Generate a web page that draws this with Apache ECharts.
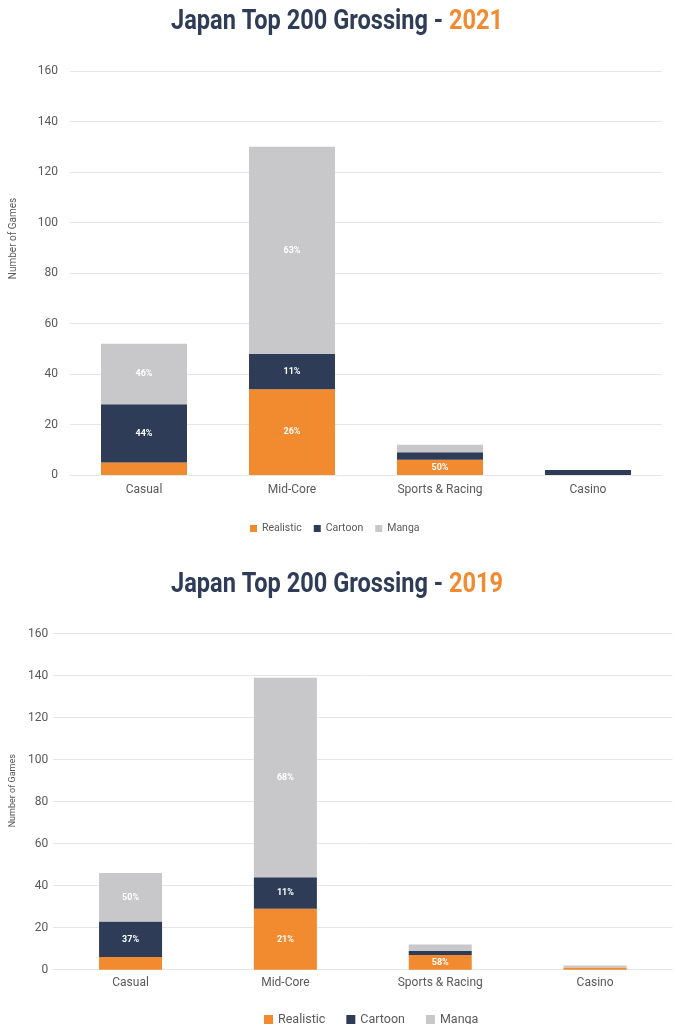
<!DOCTYPE html>
<html>
<head>
<meta charset="utf-8">
<script src="https://cdn.jsdelivr.net/npm/echarts@6/dist/echarts.min.js"></script>
<style>html,body{margin:0;padding:0;background:#fff;}#c{width:674px;height:1024px;}</style>
</head>
<body>
<div id="c"></div>
<script>
var categories = ['Casual', 'Mid-Core', 'Sports & Racing', 'Casino'];
var seriesNames = ['Realistic', 'Cartoon', 'Manga'];
var yTicks = [0, 20, 40, 60, 80, 100, 120, 140, 160];
var titleText = 'Japan Top 200 Grossing - ';
var years = ['2021', '2019'];

var realistic2021 = [5, 34, 6, 0];
var cartoon2021 = [23, 14, 3, 2];
var manga2021 = [24, 82, 3, 0];
var realisticLabels2021 = ['', '26%', '50%', ''];
var cartoonLabels2021 = ['44%', '11%', '', ''];
var mangaLabels2021 = ['46%', '63%', '', ''];

var realistic2019 = [6, 29, 7, 1];
var cartoon2019 = [17, 15, 2, 0];
var manga2019 = [23, 95, 3, 1];
var realisticLabels2019 = ['', '21%', '58%', ''];
var cartoonLabels2019 = ['37%', '11%', '', ''];
var mangaLabels2019 = ['50%', '68%', '', ''];

var colors = ['#F28A30', '#2F3C57', '#C8C8CA'];
var NAVY = '#2F3C57', ORANGE = '#F28A30';
var FONT = 'Roboto';
var TITLE_FONT_SIZE = 27;
var TITLE_WIDTH = 332;

function mkSeries(name, values, labels, idx, color, barWidth, fontSize) {
  return {
    name: name, type: 'bar', stack: 's' + idx, xAxisIndex: idx, yAxisIndex: idx,
    barWidth: barWidth, itemStyle: { color: color },
    data: values,
    label: {
      show: true, position: 'inside', color: '#fff', fontWeight: 'bold',
      fontFamily: FONT, fontSize: fontSize,
      formatter: function (p) { return labels[p.dataIndex]; }
    },
    emphasis: { disabled: true }, animation: false
  };
}

var chart = echarts.init(document.getElementById('c'), null, { renderer: 'canvas' });
var yMax = yTicks[yTicks.length - 1];
var yInt = yTicks[1] - yTicks[0];

function mkY(idx, margin, nameGap, nameSize, pad) {
  return {
    type: 'value', gridIndex: idx, min: yTicks[0], max: yMax, interval: yInt,
    name: 'Number of Games', nameLocation: 'middle', nameGap: nameGap, nameRotate: 90,
    nameTextStyle: { color: '#595959', fontSize: nameSize, fontFamily: FONT, padding: pad },
    axisLine: { show: false }, axisTick: { show: false },
    axisLabel: { color: '#595959', fontSize: 12, fontFamily: FONT, margin: margin },
    splitLine: { lineStyle: { color: '#E6E6E6', width: 1 } }
  };
}
function mkX(idx, margin) {
  return {
    type: 'category', gridIndex: idx, data: categories,
    axisLine: { lineStyle: { color: '#E6E6E6' } }, axisTick: { show: false },
    axisLabel: { color: '#595959', fontSize: 12, fontFamily: FONT, margin: margin }
  };
}
function mkLegend(left, top, size, itemW, gap) {
  return {
    top: top, left: left, data: seriesNames, icon: 'rect',
    itemWidth: itemW, itemHeight: itemW, itemGap: gap,
    textStyle: { color: '#595959', fontSize: size, fontFamily: FONT },
    selectedMode: false
  };
}

// measure title width to condense it like the reference typeface
var ctx = document.createElement('canvas').getContext('2d');
ctx.font = 'bold ' + TITLE_FONT_SIZE + 'px ' + FONT;
var natural = ctx.measureText(titleText + years[0]).width;
var sx = TITLE_WIDTH / natural;

function mkTitle(year, y) {
  return {
    type: 'text', x: 337, y: y, scaleX: sx, scaleY: 1, silent: true,
    style: {
      text: '{a|' + titleText + '}{b|' + year + '}',
      align: 'center', verticalAlign: 'middle',
      rich: {
        a: { fill: NAVY, fontSize: TITLE_FONT_SIZE, fontWeight: 'bold', fontFamily: FONT },
        b: { fill: ORANGE, fontSize: TITLE_FONT_SIZE, fontWeight: 'bold', fontFamily: FONT }
      }
    }
  };
}

chart.setOption({
  animation: false,
  color: colors,
  graphic: [mkTitle(years[0], 22), mkTitle(years[1], 585)],
  legend: [mkLegend(245, 518, 10.5, 7, 12), mkLegend(259, 1008, 12.5, 9, 21)],
  grid: [
    { left: 62, top: 71, width: 600, height: 404 },
    { left: 44.5, top: 633.7, width: 628, height: 336 }
  ],
  xAxis: [mkX(0, 9), mkX(1, 7)],
  yAxis: [mkY(0, 12, 52, 10, [0, 0, 0, 69]), mkY(1, 5, 35, 9, [0, 0, 0, 22])],
  series: [
    mkSeries('Realistic', realistic2021, realisticLabels2021, 0, colors[0], 86, 9),
    mkSeries('Cartoon', cartoon2021, cartoonLabels2021, 0, colors[1], 86, 9),
    mkSeries('Manga', manga2021, mangaLabels2021, 0, colors[2], 86, 9),
    mkSeries('Realistic', realistic2019, realisticLabels2019, 1, colors[0], 63, 9),
    mkSeries('Cartoon', cartoon2019, cartoonLabels2019, 1, colors[1], 63, 9),
    mkSeries('Manga', manga2019, mangaLabels2019, 1, colors[2], 63, 9)
  ]
});
</script>
</body>
</html>
